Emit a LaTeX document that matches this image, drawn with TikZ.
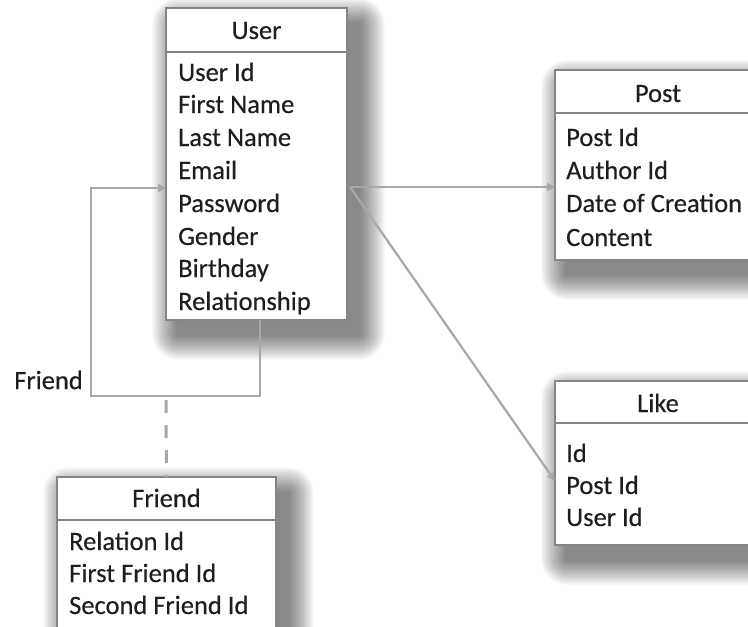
\documentclass[tikz,border=0pt]{standalone}
\usepackage{fontspec}
\setmainfont{Carlito}[FakeBold=0.35]
\usetikzlibrary{arrows.meta}
\definecolor{txt}{HTML}{1E1E1E}
\definecolor{bord}{HTML}{858585}
\definecolor{conn}{HTML}{A8A8A8}
\tikzset{
  entity/.style={draw=bord, line width=2.2pt, fill=white, inner sep=0pt, outer sep=0pt},
  shadowlayer/.style={fill=black, opacity=0.035},
  sepline/.style={draw=bord, line width=2.2pt},
  field/.style={anchor=base west, inner sep=0pt, text=txt, font=\fontsize{26.5}{30}\selectfont},
  title/.style={anchor=base, inner sep=0pt, text=txt, font=\fontsize{26.5}{30}\selectfont},
  link/.style={draw=conn, line width=2.2pt, -{Triangle[length=8pt,width=8pt]}},
  dashlink/.style={draw=conn, line width=3pt, dash pattern=on 13pt off 12pt},
}
\begin{document}
\begin{tikzpicture}[x=1pt,y=-1pt]
\clip (0,0) rectangle (748,627);
\fill[white] (0,0) rectangle (748,627);
% soft shadows
\foreach \a/\b/\c/\d in {166/8/347/320, 555/70/761/260, 555/381/761/545, 57/477/276/640}{
  \foreach \k in {1,...,16}{
    \fill[shadowlayer, rounded corners=1.6*\k] (\a+12-1.6*\k,\b+16-1.6*\k) rectangle (\c+12+1.6*\k,\d+14+1.6*\k);
  }
}
% boxes
\node[entity, minimum width=181pt, minimum height=312pt] (user) at (256.5,164) {};
\node[entity, minimum width=206pt, minimum height=190pt] (post) at (658,165) {};
\node[entity, minimum width=206pt, minimum height=164pt] (like) at (658,463) {};
\node[entity, minimum width=219pt, minimum height=160pt] (friend) at (166.5,557) {};
% header separators
\draw[sepline] (166,52) -- (347,52);
\draw[sepline] (555,113) -- (761,113);
\draw[sepline] (555,423) -- (761,423);
\draw[sepline] (57,520) -- (276,520);
% titles
\node[title] (ut) at (256.5,39) {User};
\node[title] (pt) at (658,102) {Post};
\node[title] (lt) at (658,412) {Like};
\node[title] (ft) at (166.5,507) {Friend};
% fields
\foreach \t/\y [count=\i] in {User Id/72,First Name/104,Last Name/137,Email/170,Password/203,Gender/236,Birthday/268,Relationship/301}
  \node[field] (uf\i) at (178,\y+9) {\t};
\foreach \t/\y [count=\i] in {Post Id/137,Author Id/170,Date of Creation/203,Content/237}
  \node[field] (pf\i) at (566,\y+9) {\t};
\foreach \t/\y [count=\i] in {Id/453,Post Id/485,User Id/517}
  \node[field] (lf\i) at (566,\y+9) {\t};
\foreach \t/\y [count=\i] in {Relation Id/541,First Friend Id/573,Second Friend Id/605}
  \node[field] (ff\i) at (69,\y+9) {\t};
% connectors
\coordinate (ua) at (350,187);
\coordinate (loopb) at (260,396);
\coordinate (loopl) at (91,396);
\coordinate (loopt) at (91,188);
\coordinate (likein) at (555,481);
\draw[link] (ua) -- (ua -| post.west);
\draw[link] (ua) -- (likein);
\draw[link] (loopb |- user.south) -- (loopb) -- (loopl) -- (loopt) -- (loopt -| user.west);
\node[anchor=east, inner sep=0pt, text=txt, font=\fontsize{26.5}{30}\selectfont] (flabel) at (83,380) {Friend};
\draw[dashlink] (166,400) -- (friend.north);
\end{tikzpicture}
\end{document}
